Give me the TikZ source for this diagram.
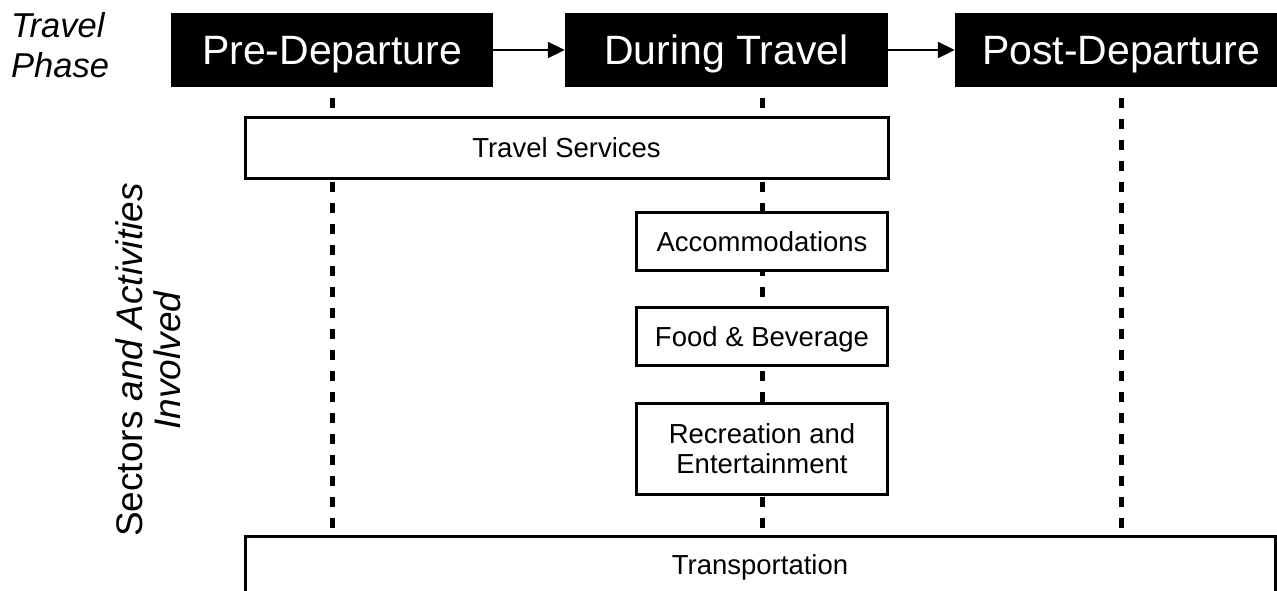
\documentclass[tikz,border=0pt]{standalone}
\usepackage{fontspec}
\setmainfont{Liberation Sans}
\usetikzlibrary{arrows.meta}
\pgfdeclarelayer{background}
\pgfsetlayers{background,main}
\begin{document}
\begin{tikzpicture}[x=1pt,y=-1pt,
  phase/.style={fill=black, text=white, draw=none, minimum width=322pt, minimum height=74pt,
    inner sep=0pt, font=\fontsize{41}{48}\selectfont, text height=29.5pt, text depth=0pt},
  sector/.style={draw=black, line width=3pt, fill=white, inner sep=0pt,
    font=\fontsize{27.5}{30}\selectfont, align=center},
  capc/.style={text height=20pt, text depth=0pt},
  guide/.style={line width=5pt, dash pattern=on 10pt off 11pt, dash phase=10pt},
  flow/.style={line width=2pt, -{Triangle[length=17pt,width=16pt]}},
]
\useasboundingbox (0,0) rectangle (1277,590);
\clip (0,0) rectangle (1277,590);

% phase header
\node[anchor=north west, inner sep=0pt, align=left, font=\fontsize{34.5}{40}\selectfont\itshape] (tp) at (11,12) {Travel\\Phase};
\node[phase] (pre) at (332,50) {Pre-Departure};
\node[phase, minimum width=323pt] (dur) at (726.5,50) {During Travel};
\node[phase, minimum width=332pt] (post) at (1121,50) {Post-Departure};

\draw[flow] (pre.east) -- (dur.west);
\draw[flow] (dur.east) -- (post.west);

% side label
\node[rotate=90, inner sep=0pt, align=center, font=\fontsize{37}{38}\selectfont] (sa) at (148,360)
  {Sectors \textit{and Activities}\\\textit{Involved}};

% sector boxes
\node[sector, capc, minimum width=643pt, minimum height=61pt] (ts) at (566.5,147.5) {Travel Services};
\node[sector, capc, minimum width=251pt, minimum height=58pt] (acc) at (762,241) {Accommodations};
\node[sector, capc, minimum width=251pt, minimum height=58pt] (fb) at (762,336) {Food \& Beverage};
\node[sector, minimum width=251pt, minimum height=91pt] (rec) at (762,449) {Recreation and\\Entertainment};
\node[sector, text height=20pt, text depth=7pt, minimum width=1030pt, minimum height=62pt, anchor=north] (tr) at (760,535) {Transportation};

\begin{pgfonlayer}{background}
\fill[white] (0,0) rectangle (1277,590);
\draw[guide] (pre.south) -- (pre.south |- tr.north);
\draw[guide] (acc.north |- dur.south) -- (acc.north |- tr.north);
\draw[guide] (post.south) -- (post.south |- tr.north);
\end{pgfonlayer}
\end{tikzpicture}
\end{document}
